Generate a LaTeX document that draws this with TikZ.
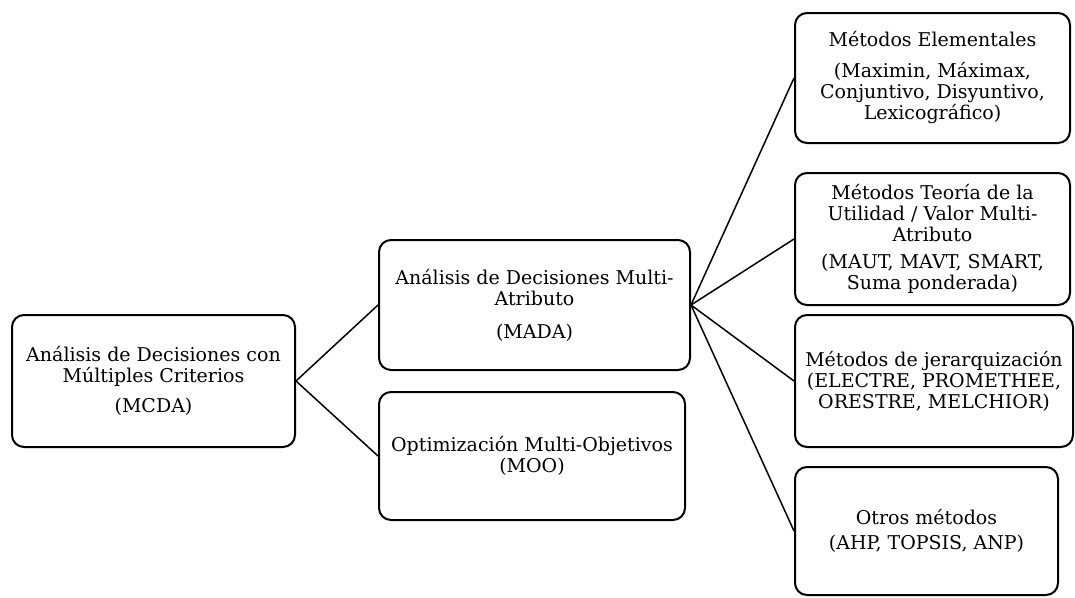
\documentclass[tikz,border=0pt]{standalone}
\usepackage{fontspec}
\setmainfont{DejaVu Serif}
\begin{document}
\begin{tikzpicture}
  [x=1pt,y=-1pt,every node/.style={draw,rectangle,rounded corners=12pt,line width=2pt,align=center,
    font=\fontsize{19}{21}\selectfont,inner sep=2pt}]
  \tikzstyle{link} = [line width=1.5pt]
  \useasboundingbox (0,0) rectangle (1075,597);
  \node[minimum width=283pt,minimum height=132pt] (mcda) at (153.5,381)
    {Análisis de Decisiones con\\Múltiples Criterios\\[9pt](MCDA)};
  \node[minimum width=311pt,minimum height=130pt] (mada) at (534.5,305)
    {Análisis de Decisiones Multi-\\Atributo\\[12pt](MADA)};
  \node[minimum width=306pt,minimum height=128pt] (moo) at (532,456)
    {Optimización Multi-Objetivos\\(MOO)};
  \node[minimum width=275pt,minimum height=130pt] (elem) at (932.5,78)
    {Métodos Elementales\\[10pt](Maximin, Máximax,\\Conjuntivo, Disyuntivo,\\Lexicográfico)};
  \node[minimum width=275pt,minimum height=132pt] (util) at (932.5,239)
    {Métodos Teoría de la\\Utilidad / Valor Multi-\\Atributo\\[6pt](MAUT, MAVT, SMART,\\Suma ponderada)};
  \node[minimum width=278pt,minimum height=132pt] (jerar) at (934,381)
    {Métodos de jerarquización\\(ELECTRE, PROMETHEE,\\ORESTRE, MELCHIOR)};
  \node[minimum width=263pt,minimum height=128pt] (otros) at (926.5,531)
    {Otros métodos\\[4pt](AHP, TOPSIS, ANP)};

 \foreach \source /\dest in {mcda/mada,mcda/moo,mada/elem,mada/util,mada/jerar,mada/otros}
   \draw[link] (\source.east) -- (\dest.west);

\end{tikzpicture}
\end{document}
